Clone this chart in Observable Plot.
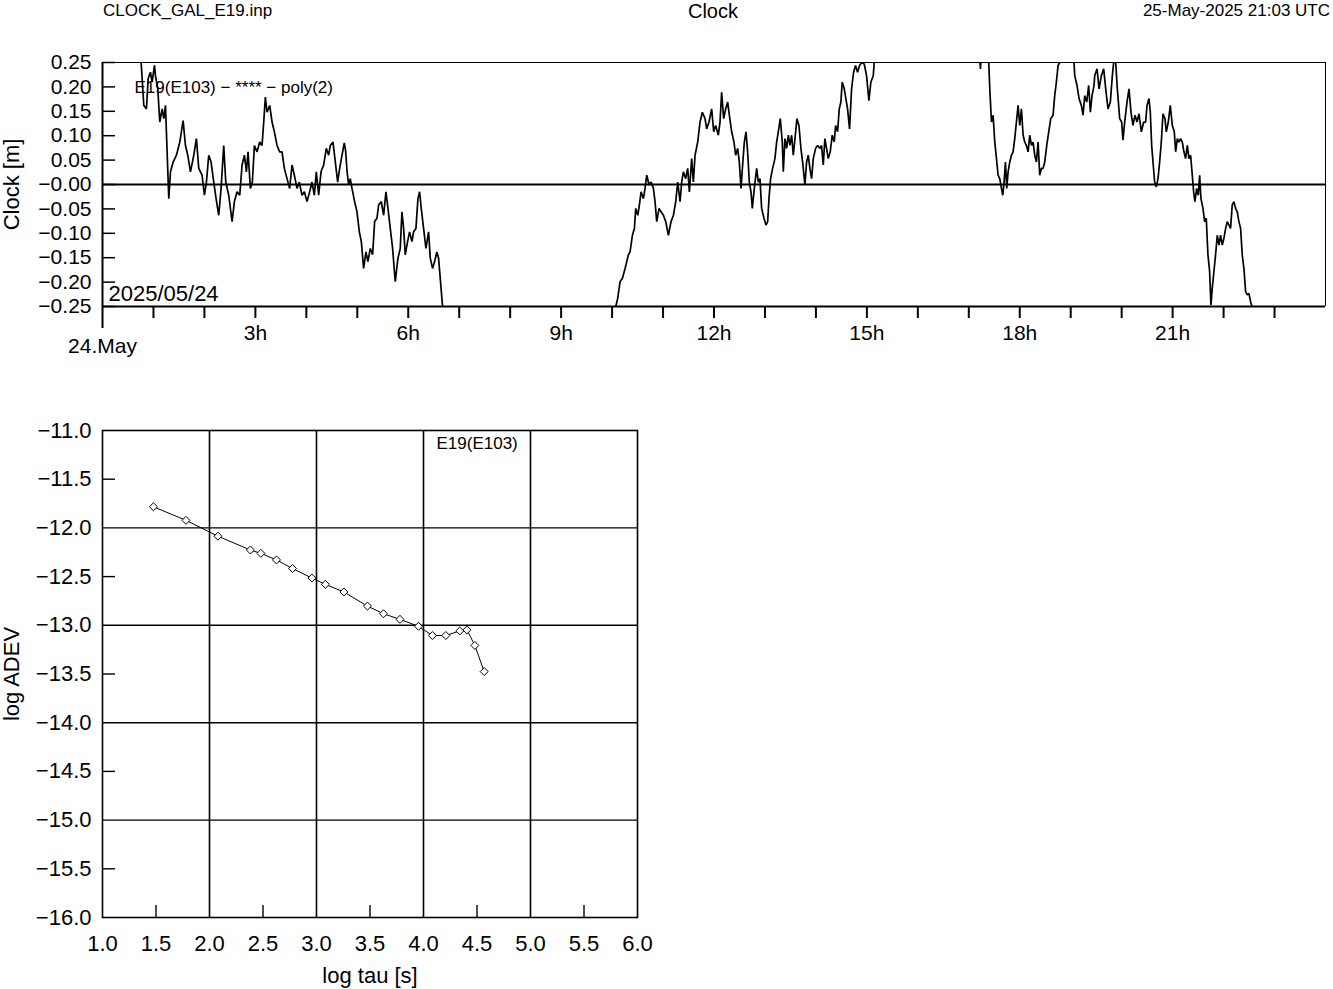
<!DOCTYPE html>
<html><head><meta charset="utf-8">
<script src="https://cdn.jsdelivr.net/npm/d3@7"></script>
<script src="https://cdn.jsdelivr.net/npm/@observablehq/plot@0.6"></script>
<style>
body{margin:0;background:#fff;font-family:"Liberation Sans",Arial,sans-serif;color:#000;}
#page{position:relative;width:1333px;height:989px;overflow:hidden;background:#fff;}
.hdr{position:absolute;top:0;font-size:17px;line-height:21px;white-space:nowrap;}
#top,#bottom{position:absolute;left:0;}
#top{top:0;} #bottom{top:400px;}
svg{overflow:visible;}
</style></head><body>
<div id="page">
<div class="hdr" style="left:103px">CLOCK_GAL_E19.inp</div>
<div class="hdr" style="left:613px;width:200px;text-align:center;font-size:20px;line-height:22px">Clock</div>
<div class="hdr" style="right:3px">25-May-2025 21:03 UTC</div>
<div id="top"></div>
<div id="bottom"></div>
</div>
<script>
// ---- Clock residuals (hours since 24 May 00:00 UTC, metres) ----
const clockHour = [
0.70,0.758,0.811,0.863,0.896,0.941,0.974,1.02,1.039,1.085,
1.124,1.17,1.203,1.236,1.268,1.301,1.334,1.386,1.451,1.517,
1.582,1.628,1.673,1.726,1.791,1.843,1.889,1.954,2.0,2.039,
2.085,2.131,2.183,2.229,2.281,2.327,2.379,2.419,2.477,2.543,
2.588,2.641,2.693,2.739,2.785,2.824,2.856,2.902,2.941,2.981,
3.033,3.085,3.131,3.164,3.196,3.229,3.281,3.327,3.373,3.425,
3.477,3.523,3.569,3.621,3.673,3.719,3.765,3.817,3.863,3.915,
3.961,4.013,4.066,4.111,4.157,4.196,4.242,4.288,4.34,4.392,
4.438,4.471,4.523,4.569,4.615,4.654,4.70,4.745,4.77,4.80,
4.83,4.863,4.896,4.948,4.994,5.04,5.079,5.124,5.17,5.209,
5.255,5.301,5.34,5.386,5.419,5.471,5.517,5.562,5.602,5.647,
5.693,5.745,5.798,5.843,5.876,5.909,5.941,5.987,6.026,6.072,
6.105,6.151,6.19,6.223,6.255,6.301,6.347,6.399,6.432,6.477,
6.517,6.562,6.595,6.628,6.673,6.72,10.03,10.072,10.111,10.157,
10.203,10.255,10.288,10.32,10.353,10.399,10.438,10.464,10.504,10.536,
10.569,10.615,10.647,10.68,10.726,10.765,10.811,10.843,10.876,10.922,
10.961,11.007,11.053,11.105,11.157,11.203,11.249,11.288,11.334,11.366,
11.399,11.445,11.484,11.517,11.562,11.595,11.628,11.68,11.726,11.771,
11.824,11.856,11.902,11.954,11.994,12.033,12.085,12.118,12.15,12.19,
12.229,12.268,12.301,12.347,12.392,12.425,12.464,12.497,12.53,12.562,
12.595,12.628,12.66,12.693,12.726,12.752,12.791,12.837,12.869,12.902,
12.935,12.98,13.02,13.053,13.079,13.111,13.15,13.196,13.229,13.262,
13.301,13.34,13.36,13.392,13.425,13.458,13.49,13.523,13.556,13.589,
13.628,13.667,13.706,13.739,13.784,13.817,13.85,13.882,13.915,13.948,
13.994,14.033,14.079,14.111,14.144,14.176,14.209,14.242,14.281,14.32,
14.36,14.386,14.425,14.458,14.49,14.516,14.556,14.621,14.66,14.7,
14.739,14.778,14.817,14.857,14.896,14.948,14.994,15.04,15.079,15.125,
15.144,15.2,17.19,17.229,17.26,17.37,17.392,17.412,17.445,17.477,
17.51,17.543,17.575,17.608,17.641,17.667,17.693,17.719,17.745,17.771,
17.804,17.837,17.869,17.902,17.935,17.967,18.0,18.033,18.066,18.098,
18.131,18.164,18.196,18.229,18.262,18.294,18.327,18.36,18.392,18.425,
18.458,18.49,18.53,18.569,18.608,18.654,18.686,18.719,18.752,18.785,
18.84,19.04,19.079,19.124,19.164,19.209,19.242,19.275,19.314,19.353,
19.386,19.418,19.458,19.471,19.517,19.556,19.602,19.647,19.687,19.732,
19.778,19.817,19.843,19.86,19.883,19.915,19.961,20.0,20.026,20.059,
20.105,20.144,20.183,20.222,20.262,20.301,20.34,20.386,20.432,20.471,
20.497,20.536,20.562,20.589,20.615,20.647,20.68,20.713,20.745,20.778,
20.811,20.85,20.876,20.915,20.954,20.994,21.033,21.059,21.092,21.124,
21.157,21.19,21.222,21.255,21.288,21.32,21.353,21.386,21.412,21.438,
21.471,21.504,21.53,21.556,21.595,21.628,21.66,21.693,21.726,21.752,
21.778,21.804,21.843,21.876,21.909,21.941,21.974,22.007,22.04,22.072,
22.105,22.137,22.17,22.203,22.235,22.268,22.301,22.334,22.366,22.399,
22.432,22.464,22.497,22.53,22.556,22.6
];
const clockMeters = [
0.30,0.25,0.162,0.155,0.217,0.23,0.21,0.244,0.223,0.196,
0.128,0.155,0.135,0.162,0.067,-0.029,0.026,0.046,0.06,0.087,
0.131,0.08,0.06,0.026,0.06,0.094,0.033,0.019,-0.022,0.005,
0.06,0.046,0.005,-0.029,-0.063,-0.008,0.08,0.005,-0.022,-0.076,
-0.035,-0.015,-0.022,0.04,0.06,0.026,0.067,-0.008,0.005,0.08,
0.067,0.087,0.08,0.128,0.179,0.148,0.162,0.128,0.108,0.08,
0.067,0.067,0.033,0.012,-0.008,0.04,0.019,-0.008,0.005,-0.022,
-0.015,-0.035,-0.015,0.005,-0.022,0.026,-0.022,0.026,0.04,0.074,
0.06,0.08,0.087,0.046,0.005,0.033,0.06,0.085,0.07,0.026,
0.0,0.012,-0.008,-0.035,-0.056,-0.097,-0.117,-0.172,-0.138,-0.158,
-0.131,-0.144,-0.076,-0.069,-0.042,-0.035,-0.063,-0.015,-0.049,-0.09,
-0.131,-0.199,-0.151,-0.131,-0.056,-0.09,-0.144,-0.117,-0.097,-0.117,
-0.097,-0.09,-0.029,-0.015,-0.049,-0.09,-0.131,-0.097,-0.151,-0.172,
-0.158,-0.138,-0.151,-0.192,-0.25,-0.32,-0.32,-0.25,-0.233,-0.199,
-0.192,-0.172,-0.158,-0.144,-0.138,-0.104,-0.09,-0.049,-0.063,-0.042,
-0.015,-0.029,-0.008,0.019,-0.001,0.005,-0.008,-0.035,-0.076,-0.049,
-0.056,-0.063,-0.076,-0.104,-0.076,-0.063,-0.035,0.005,-0.035,0.005,
0.026,0.012,0.033,-0.015,0.053,0.005,0.06,0.087,0.128,0.148,
0.135,0.114,0.128,0.155,0.108,0.121,0.101,0.128,0.189,0.135,
0.155,0.169,0.142,0.108,0.087,0.06,0.074,0.046,-0.008,0.04,
0.087,0.108,0.067,0.005,-0.015,-0.049,-0.008,0.033,0.005,0.012,
-0.049,-0.069,-0.083,-0.076,-0.029,0.012,0.033,0.053,0.087,0.108,
0.135,0.087,0.026,0.094,0.074,0.101,0.08,0.101,0.06,0.094,
0.135,0.121,0.074,0.046,-0.001,0.046,0.06,0.033,0.012,0.053,
0.074,0.08,0.074,0.08,0.04,0.094,0.074,0.053,0.067,0.101,
0.087,0.121,0.108,0.155,0.169,0.21,0.196,0.155,0.114,0.196,
0.23,0.244,0.23,0.244,0.25,0.247,0.223,0.172,0.21,0.223,
0.25,0.31,0.30,0.237,0.30,0.29,0.25,0.196,0.128,0.142,
0.087,0.053,0.019,0.012,-0.008,-0.022,0.005,0.046,-0.008,0.026,
0.046,0.06,0.067,0.094,0.128,0.162,0.121,0.155,0.101,0.087,
0.08,0.067,0.101,0.08,0.087,0.06,0.046,0.087,0.019,0.033,
0.033,0.046,0.08,0.108,0.135,0.142,0.182,0.21,0.244,0.25,
0.30,0.30,0.223,0.203,0.176,0.162,0.142,0.182,0.169,0.203,
0.148,0.182,0.203,0.223,0.237,0.196,0.223,0.237,0.196,0.155,
0.169,0.223,0.25,0.265,0.25,0.196,0.135,0.128,0.091,0.128,
0.169,0.196,0.148,0.121,0.142,0.128,0.145,0.108,0.128,0.128,
0.162,0.176,0.148,0.08,0.046,0.005,-0.005,0.012,0.046,0.087,
0.145,0.135,0.108,0.128,0.162,0.121,0.108,0.067,0.094,0.087,
0.094,0.087,0.067,0.053,0.08,0.053,0.06,0.019,-0.015,-0.035,
-0.008,-0.022,0.019,-0.029,-0.049,-0.076,-0.069,-0.144,-0.178,-0.247,
-0.212,-0.185,-0.144,-0.104,-0.124,-0.104,-0.124,-0.11,-0.09,-0.076,
-0.083,-0.09,-0.042,-0.035,-0.049,-0.056,-0.076,-0.09,-0.144,-0.172,
-0.219,-0.226,-0.223,-0.24,-0.25,-0.27
];
const clockYTicks = [0.25,0.20,0.15,0.10,0.05,0,-0.05,-0.10,-0.15,-0.20,-0.25];
const clockYTickLabels = ["0.25","0.20","0.15","0.10","0.05","\u22120.00","\u22120.05","\u22120.10","\u22120.15","\u22120.20","\u22120.25"];
const hourTicks = [1,2,3,4,5,6,7,8,9,10,11,12,13,14,15,16,17,18,19,20,21,22,23];
const hourLabelValues = [3,6,9,12,15,18,21];
const hourLabels = ["3h","6h","9h","12h","15h","18h","21h"];
const dayLabelValues = [0];
const dayLabels = ["24.May"];

// ---- Allan deviation ----
const logTau = [1.476,1.78,2.079,2.382,2.48,2.626,2.776,2.957,3.083,3.256,3.476,3.626,3.78,3.953,4.083,4.209,4.339,4.406,4.48,4.567];
const logAdev = [-11.783,-11.922,-12.085,-12.227,-12.261,-12.329,-12.417,-12.515,-12.58,-12.658,-12.803,-12.881,-12.939,-13.01,-13.105,-13.105,-13.058,-13.047,-13.207,-13.475];
const adevYTicks = [-11,-11.5,-12,-12.5,-13,-13.5,-14,-14.5,-15,-15.5,-16];
const adevYTickLabels = ["\u221211.0","\u221211.5","\u221212.0","\u221212.5","\u221213.0","\u221213.5","\u221214.0","\u221214.5","\u221215.0","\u221215.5","\u221216.0"];
const adevXTicks = [1,1.5,2,2.5,3,3.5,4,4.5,5,5.5,6];
const adevXTickLabels = ["1.0","1.5","2.0","2.5","3.0","3.5","4.0","4.5","5.0","5.5","6.0"];
const adevGridX = [2,3,4,5];
const adevGridY = [-12,-13,-14,-15];
const adevMinorX = [1.5,2.5,3.5,4.5,5.5];
const adevMinorY = [-11.5,-12.5,-13.5,-14.5,-15.5];

const FONT = "'Liberation Sans', Arial, Helvetica, sans-serif";
const clockData = clockHour.map((h, i) => ({h, v: clockMeters[i]}));
const adevData = logTau.map((t, i) => ({t, a: logAdev[i]}));

// Top chart geometry
const TW = 1333, TH = 360, TL = 102, TR = 8, TT = 62, TB = 54;
const tInnerW = TW - TL - TR, tInnerH = TH - TT - TB;

const topPlot = Plot.plot({
  width: TW, height: TH,
  marginLeft: TL, marginRight: TR, marginTop: TT, marginBottom: TB,
  x: {domain: [0, 24], axis: null},
  y: {domain: [-0.25, 0.25], axis: null},
  style: {fontFamily: FONT, fontSize: "21px", color: "#000", background: "transparent", overflow: "visible"},
  marks: [
    Plot.text(["E19(E103) \u2212 **** \u2212 poly(2)"], {frameAnchor: "top-left", dx: 32, dy: 25, fontSize: 17, lineAnchor: "middle", textAnchor: "start", fill: "#000"}),
    Plot.text(["2025/05/24"], {frameAnchor: "bottom-left", dx: 6, dy: -13, fontSize: 22, lineAnchor: "middle", textAnchor: "start", fill: "#000"}),
    Plot.ruleY([0.25], {stroke: "#000", strokeWidth: 1}),
    Plot.ruleX([24], {stroke: "#000", strokeWidth: 1}),
    Plot.ruleY(clockYTicks, {y: d => d, insetRight: tInnerW - 13, stroke: "#000", strokeWidth: 1.5}),
    Plot.ruleY([0], {stroke: "#000", strokeWidth: 2}),
    Plot.line(clockData, {x: "h", y: "v", clip: true, stroke: "#000", strokeWidth: 1.7, strokeLinejoin: "miter"}),
    Plot.ruleY([-0.25], {stroke: "#000", strokeWidth: 2}),
    Plot.ruleX([0], {insetBottom: -22, stroke: "#000", strokeWidth: 2}),
    Plot.ruleX(hourTicks, {x: d => d, insetTop: tInnerH - 12, dy: 12, stroke: "#000", strokeWidth: 2}),
    Plot.text(clockYTicks, {y: d => d, text: (d, i) => clockYTickLabels[i], frameAnchor: "left", dx: -11, textAnchor: "end", lineAnchor: "middle", fill: "#000"}),
    Plot.text(hourLabelValues, {x: d => d, text: (d, i) => hourLabels[i], frameAnchor: "bottom", dy: 27, lineAnchor: "middle", fill: "#000"}),
    Plot.text(dayLabelValues, {x: d => d, text: (d, i) => dayLabels[i], frameAnchor: "bottom", dy: 40, lineAnchor: "middle", fill: "#000"}),
    Plot.text(["Clock [m]"], {frameAnchor: "left", dx: -91, rotate: -90, fontSize: 22, textAnchor: "middle", lineAnchor: "middle", fill: "#000"})
  ]
});
document.getElementById("top").appendChild(topPlot);

// Bottom chart geometry
const BW = 680, BH = 589, BL = 102, BR = 43, BT = 30, BB = 72;
const bInnerW = BW - BL - BR, bInnerH = BH - BT - BB;

const botPlot = Plot.plot({
  width: BW, height: BH,
  marginLeft: BL, marginRight: BR, marginTop: BT, marginBottom: BB,
  x: {domain: [1, 6], axis: null},
  y: {domain: [-16, -11], axis: null},
  style: {fontFamily: FONT, fontSize: "22px", color: "#000", background: "transparent", overflow: "visible"},
  marks: [
    Plot.ruleX(adevGridX, {x: d => d, stroke: "#000", strokeWidth: 1.6}),
    Plot.ruleY(adevGridY, {y: d => d, stroke: "#000", strokeWidth: 1.4}),
    Plot.ruleY(adevMinorY, {y: d => d, insetRight: bInnerW - 13, stroke: "#000", strokeWidth: 1.4}),
    Plot.ruleX(adevMinorX, {x: d => d, insetTop: bInnerH - 12, stroke: "#000", strokeWidth: 1.4}),
    Plot.frame({stroke: "#000", strokeWidth: 1.6}),
    Plot.text(["E19(E103)"], {frameAnchor: "top-left", dx: 334, dy: 13, fontSize: 17, textAnchor: "start", lineAnchor: "middle", fill: "#000"}),
    Plot.line(adevData, {x: "t", y: "a", stroke: "#000", strokeWidth: 1}),
    Plot.dot(adevData, {x: "t", y: "a", symbol: "diamond2", r: 3.6, fill: "#fff", stroke: "#000", strokeWidth: 1}),
    Plot.text(adevYTicks, {y: d => d, text: (d, i) => adevYTickLabels[i], frameAnchor: "left", dx: -11, textAnchor: "end", lineAnchor: "middle", fill: "#000"}),
    Plot.text(adevXTicks, {x: d => d, text: (d, i) => adevXTickLabels[i], frameAnchor: "bottom", dy: 26, lineAnchor: "middle", fill: "#000"}),
    Plot.text(["log tau [s]"], {frameAnchor: "bottom", dy: 58, lineAnchor: "middle", fill: "#000"}),
    Plot.text(["log ADEV"], {frameAnchor: "left", dx: -91, rotate: -90, textAnchor: "middle", lineAnchor: "middle", fill: "#000"})
  ]
});
document.getElementById("bottom").appendChild(botPlot);
</script>
</body></html>
